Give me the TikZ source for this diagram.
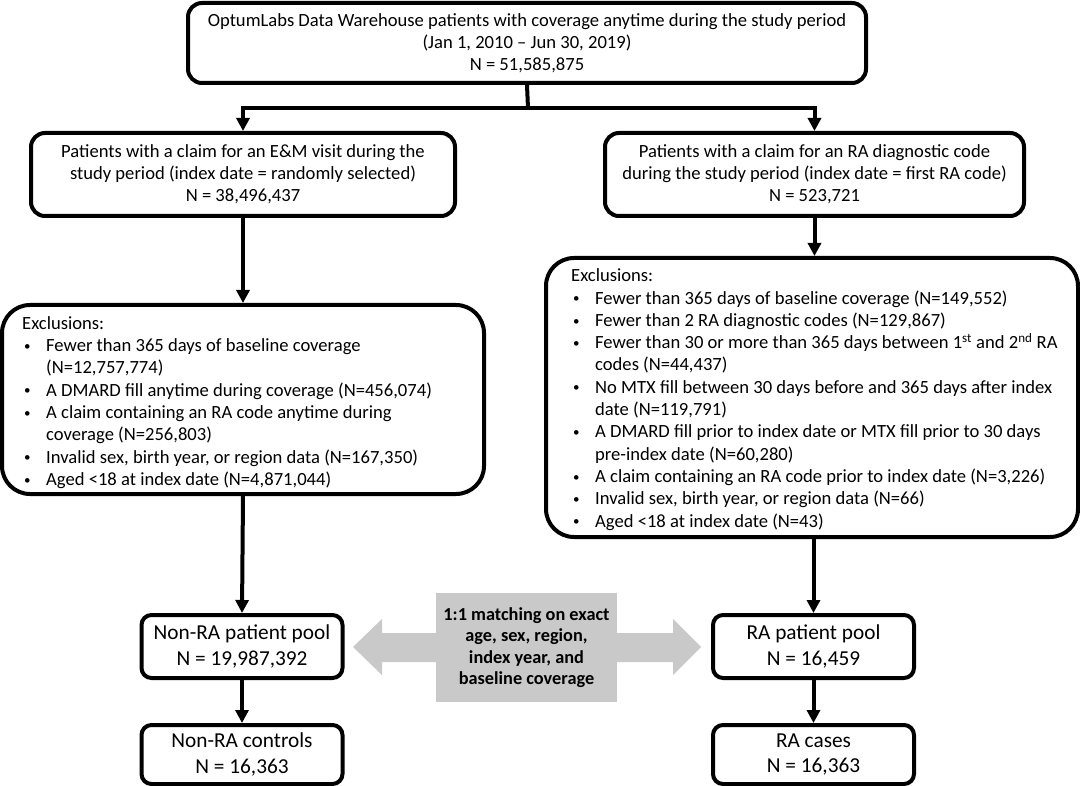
\documentclass[tikz,border=0pt]{standalone}
\usepackage{fontspec}
\setmainfont{Carlito}
\usetikzlibrary{arrows.meta}
\definecolor{gry}{RGB}{201,201,201}
\newcommand\bl{\makebox[24pt][l]{\hspace{2pt}\raisebox{1.3pt}{\fontsize{13}{13}\selectfont\textbullet}}}
\newcommand\cl{\hspace*{24pt}}
\begin{document}
\begin{tikzpicture}[x=1pt,y=-1pt,
  box/.style={draw, line width=4pt, rounded corners=14pt, align=center, inner sep=0pt, font=\fontsize{18.6}{22}\selectfont},
  exbox/.style={draw, line width=4pt, rounded corners=28pt, inner sep=0pt},
  extext/.style={anchor=west, align=left, inner sep=0pt, font=\fontsize{18.6}{22.3}\selectfont},
  pool/.style={draw, line width=4pt, rounded corners=10pt, align=center, inner sep=0pt, minimum width=201pt, font=\fontsize{21.3}{25.5}\selectfont},
  arr/.style={line width=4pt, -{Triangle[length=13pt,width=13pt]}},
  link/.style={line width=4pt}]
\useasboundingbox (0,0) rectangle (1080,786);

\node[box, minimum width=678pt, minimum height=80pt] (top) at (527,43)
  {OptumLabs Data Warehouse patients with coverage anytime during the study period\\(Jan 1, 2010 – Jun 30, 2019)\\N = 51,585,875};

\node[box, minimum width=424pt, minimum height=83pt] (emb) at (243,174.5)
  {Patients with a claim for an E\&M visit during the\\study period (index date = randomly selected)\\N = 38,496,437};
\node[box, minimum width=419pt, minimum height=83pt] (rab) at (814.5,174.5)
  {Patients with a claim for an RA diagnostic code\\during the study period (index date = first RA code)\\N = 523,721};

\node[exbox, minimum width=482pt, minimum height=189pt] (exL) at (243,399.5) {};
\node[extext] (exLt) at ([xshift=22pt,yshift=-3pt]exL.west)
  {Exclusions:\\
   \bl Fewer than 365 days of baseline coverage\\
   \cl (N=12,757,774)\\
   \bl A DMARD fill anytime during coverage (N=456,074)\\
   \bl A claim containing an RA code anytime during\\
   \cl coverage (N=256,803)\\
   \bl Invalid sex, birth year, or region data (N=167,350)\\
   \bl Aged <18 at index date (N=4,871,044)};

\node[exbox, minimum width=532pt, minimum height=279pt] (exR) at (812,397.5) {};
\node[extext] (exRt) at ([xshift=27pt,yshift=-2pt]exR.west)
  {Exclusions:\\
   \bl Fewer than 365 days of baseline coverage (N=149,552)\\
   \bl Fewer than 2 RA diagnostic codes (N=129,867)\\
   \bl Fewer than 30 or more than 365 days between 1\textsuperscript{st} and 2\textsuperscript{nd} RA\\
   \cl codes (N=44,437)\\
   \bl No MTX fill between 30 days before and 365 days after index\\
   \cl date (N=119,791)\\
   \bl A DMARD fill prior to index date or MTX fill prior to 30 days\\
   \cl pre-index date (N=60,280)\\
   \bl A claim containing an RA code prior to index date (N=3,226)\\
   \bl Invalid sex, birth year, or region data (N=66)\\
   \bl Aged <18 at index date (N=43)};

\node[pool, minimum height=63pt] (poolL) at (242,646.5) {Non-RA patient pool\\N = 19,987,392};
\node[pool, minimum height=59pt] (ctrlL) at (242,754.5) {Non-RA controls\\N = 16,363};
\node[pool, minimum height=63pt] (poolR) at (813.5,646.5) {RA patient pool\\N = 16,459};
\node[pool, minimum height=59pt] (caseR) at (813.5,754.5) {RA cases\\N = 16,363};

% gray double arrow
\fill[gry] (353,647) -- (382,619) -- (382,633) -- (673,633) -- (673,619) -- (701,647)
  -- (673,675) -- (673,662) -- (382,662) -- (382,675) -- cycle;
\node[fill=gry, minimum width=181pt, minimum height=109pt, align=center, inner sep=0pt,
  font=\bfseries\fontsize{18.3}{21.3}\selectfont] (match) at (526.5,647.5)
  {1:1 matching on exact\\age, sex, region,\\index year, and\\baseline coverage};

% connectors
\coordinate (jn) at (528,108);
\draw[link] (top.south) -- (jn);
\draw[arr] (jn) -| (emb.north);
\draw[arr] (jn) -| (rab.north);
\draw[arr] (emb.south) -- (exL.north);
\draw[arr] (rab.south) -- (rab.south |- exR.north);
\draw[arr] (exL.south) -- (poolL.north);
\draw[arr] (exR.south -| poolR.north) -- (poolR.north);
\draw[arr] (poolL.south) -- (ctrlL.north);
\draw[arr] (poolR.south) -- (caseR.north);
\end{tikzpicture}
\end{document}
